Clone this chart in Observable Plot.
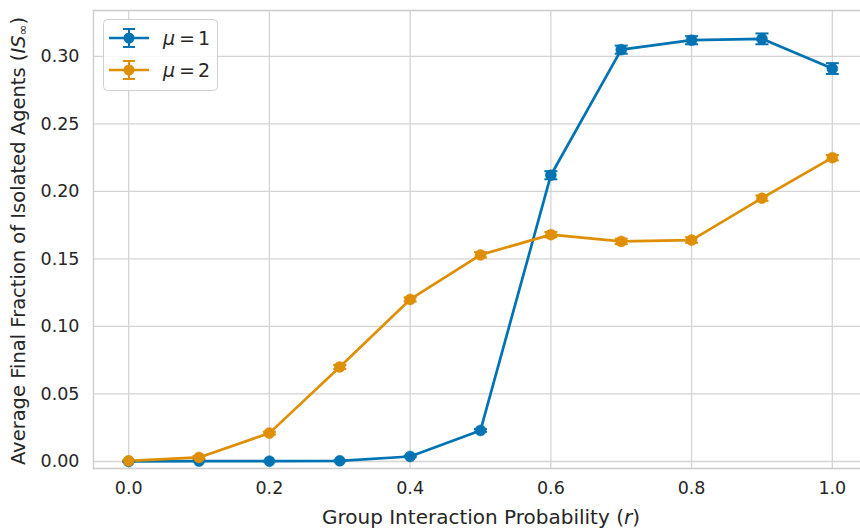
<!DOCTYPE html>
<html>
<head>
<meta charset="utf-8">
<script src="https://cdn.jsdelivr.net/npm/d3@7"></script>
<script src="https://cdn.jsdelivr.net/npm/@observablehq/plot@0.6"></script>
<style>
  html, body { margin: 0; padding: 0; background: white; overflow: hidden; }
  #chart svg { display: block; overflow: hidden; }
</style>
</head>
<body>
<div id="chart"></div>
<script>
// ---- data ----
const rValues = [0.0, 0.1, 0.2, 0.3, 0.4, 0.5, 0.6, 0.7, 0.8, 0.9, 1.0];
const mu1Mean = [0.0, 0.0003, 0.0002, 0.0005, 0.0037, 0.023, 0.212, 0.305, 0.312, 0.313, 0.291];
const mu1Err  = [0.0, 0.0002, 0.0002, 0.0003, 0.0005, 0.001, 0.003, 0.003, 0.003, 0.004, 0.004];
const mu2Mean = [0.0005, 0.003, 0.021, 0.070, 0.120, 0.153, 0.168, 0.163, 0.164, 0.195, 0.225];
const mu2Err  = [0.0003, 0.001, 0.001, 0.0015, 0.0015, 0.002, 0.002, 0.002, 0.002, 0.002, 0.002];
const seriesNames = ["μ = 1", "μ = 2"];
const seriesColors = ["#0173b2", "#de8f05"];
const xTicks = [0.0, 0.2, 0.4, 0.6, 0.8, 1.0];
const yTicks = [0.00, 0.05, 0.10, 0.15, 0.20, 0.25, 0.30];

const rows = [];
[[mu1Mean, mu1Err], [mu2Mean, mu2Err]].forEach(([m, e], s) => {
  rValues.forEach((r, i) => rows.push({series: seriesNames[s], r, y: m[i], lo: m[i] - e[i], hi: m[i] + e[i]}));
});

const capSymbol = {
  draw(context, size) {
    const w = Math.sqrt(size / Math.PI);
    context.moveTo(-w, 0);
    context.lineTo(w, 0);
  }
};

const colorScale = {domain: seriesNames, range: seriesColors};
const gridColor = "#d4d4d4";

const chart = Plot.plot({
  width: 860,
  height: 529,
  marginLeft: 93,
  marginTop: 10,
  marginBottom: 61,
  marginRight: 0,
  style: {fontFamily: "DejaVu Sans", fontSize: "17.5px", color: "#262626", background: "white"},
  x: {domain: [-0.05, 1.05], range: [93, 867], label: null},
  y: {domain: [-0.0052, 0.334], label: null},
  color: colorScale,
  marks: [
    Plot.gridX(xTicks, {stroke: gridColor, strokeOpacity: 1, strokeWidth: 1.3}),
    Plot.gridY(yTicks, {stroke: gridColor, strokeOpacity: 1, strokeWidth: 1.3}),
    Plot.frame({anchor: "left", stroke: "#cccccc", strokeWidth: 1.3}),
    Plot.frame({anchor: "top", stroke: "#cccccc", strokeWidth: 1.3}),
    Plot.frame({anchor: "bottom", stroke: "#cccccc", strokeWidth: 1.3}),
    Plot.axisX(xTicks, {tickSize: 0, tickPadding: 13, tickFormat: d => d.toFixed(1), label: null, fill: "#262626"}),
    Plot.axisY(yTicks, {tickSize: 0, tickPadding: 14, tickFormat: d => d.toFixed(2), label: null, fill: "#262626"}),
    Plot.line(rows, {x: "r", y: "y", z: "series", stroke: "series", strokeWidth: 2.7}),
    Plot.ruleX(rows, {x: "r", y1: "lo", y2: "hi", stroke: "series", strokeWidth: 2}),
    Plot.dot(rows, {x: "r", y: "lo", symbol: capSymbol, r: 6.5, stroke: "series", fill: "none", strokeWidth: 2}),
    Plot.dot(rows, {x: "r", y: "hi", symbol: capSymbol, r: 6.5, stroke: "series", fill: "none", strokeWidth: 2}),
    Plot.dot(rows, {x: "r", y: "y", r: 5.5, fill: "series", stroke: "series", strokeWidth: 0.5})
  ]
});

document.getElementById("chart").appendChild(chart);

const svg = d3.select(chart);
const font = "DejaVu Sans";
// Axis labels
const xl = svg.append("text")
  .attr("x", 481).attr("y", 517)
  .attr("text-anchor", "middle").attr("dominant-baseline", "central")
  .style("font-family", font).style("font-size", "20px").attr("fill", "#262626");
xl.append("tspan").text("Group Interaction Probability (");
xl.append("tspan").style("font-style", "italic").text("r");
xl.append("tspan").text(")");

const yl = svg.append("text")
  .attr("transform", "translate(18,241) rotate(-90)")
  .attr("text-anchor", "middle").attr("dominant-baseline", "central")
  .style("font-family", font).style("font-size", "19.5px").attr("fill", "#262626");
yl.append("tspan").text("Average Final Fraction of Isolated Agents (");
yl.append("tspan").style("font-style", "italic").text("IS");
yl.append("tspan").style("font-size", "13px").attr("dy", "4").text("∞");
yl.append("tspan").attr("dy", "-4").text(")");

// Legend
const lg = svg.append("g");
lg.append("rect").attr("x", 103.5).attr("y", 19.5).attr("width", 114).attr("height", 71)
  .attr("rx", 4).attr("fill", "white").attr("fill-opacity", 0.85)
  .attr("stroke", "#d0d0d0").attr("stroke-width", 1);
seriesNames.forEach((name, i) => {
  const cy = 38 + i * 32;
  const c = seriesColors[i];
  const g = lg.append("g");
  g.append("line").attr("x1", 109).attr("x2", 149).attr("y1", cy).attr("y2", cy).attr("stroke", c).attr("stroke-width", 2.7);
  g.append("line").attr("x1", 129).attr("x2", 129).attr("y1", cy - 9).attr("y2", cy + 9).attr("stroke", c).attr("stroke-width", 2);
  g.append("line").attr("x1", 123).attr("x2", 135).attr("y1", cy - 9).attr("y2", cy - 9).attr("stroke", c).attr("stroke-width", 2);
  g.append("line").attr("x1", 123).attr("x2", 135).attr("y1", cy + 9).attr("y2", cy + 9).attr("stroke", c).attr("stroke-width", 2);
  g.append("circle").attr("cx", 129).attr("cy", cy).attr("r", 5.5).attr("fill", c);
  const parts = name.split(" ");
  const xs = [169, 187, 204];
  parts.forEach((p, k) => {
    g.append("text").attr("x", xs[k]).attr("y", cy).attr("text-anchor", "middle")
      .attr("dominant-baseline", "central")
      .style("font-family", font).style("font-size", "19px")
      .style("font-style", k === 0 ? "italic" : "normal")
      .attr("fill", "#262626").text(p);
  });
});
</script>
</body>
</html>
